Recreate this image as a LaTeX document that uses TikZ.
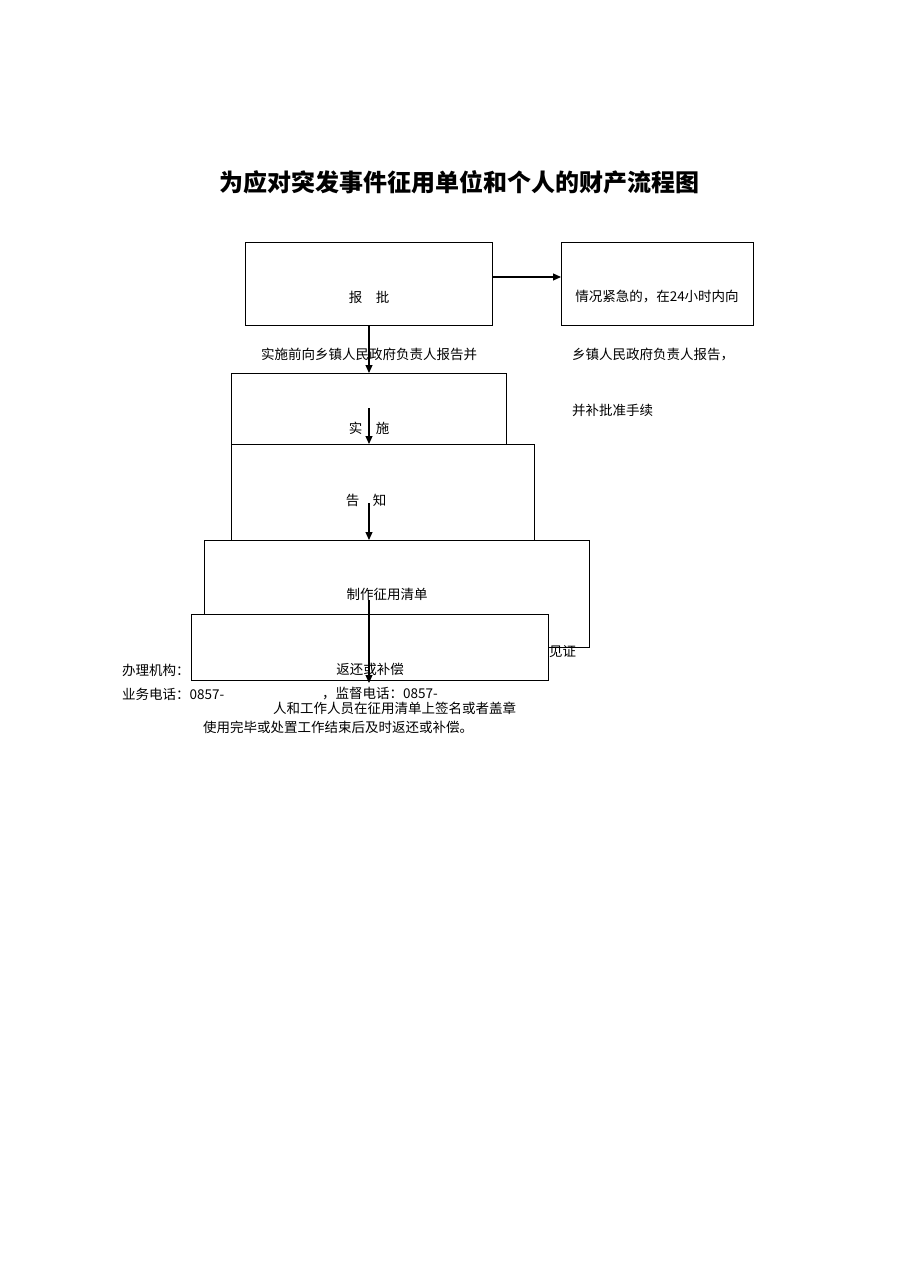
\documentclass[tikz,border=0pt]{standalone}
\usepackage{fontspec}
\newfontfamily\cjk{Noto Sans CJK SC}
\usetikzlibrary{arrows.meta}
\begin{document}
\begin{tikzpicture}[x=1pt,y=-1pt,
 box/.style={draw,line width=1.1pt,fill=white,anchor=north west,inner sep=0pt},
 t/.style={font=\cjk\fontsize{13.5}{15}\selectfont,inner sep=0pt},
 arr/.style={line width=1.1pt,-{Triangle[length=8pt,width=7pt]}}]
\useasboundingbox (0,0) rectangle (909,1286);
\node[t,font=\cjk\bfseries\fontsize{24}{27}\selectfont] (title) at (459,182) {为应对突发事件征用单位和个人的财产流程图};
\node[box,minimum width=247,minimum height=83] (b1) at (245,242) {};
\node[box,minimum width=192,minimum height=83] (b2) at (561,242) {};
\node[box,minimum width=275,minimum height=90] (b3) at (231,373) {};
\node[box,minimum width=303,minimum height=110] (b4) at (231,444) {};
\node[box,minimum width=385,minimum height=107] (b5) at (204,540) {};
\node[box,minimum width=357,minimum height=66] (b6) at (191,614) {};
\node[t] (l1) at (369,297) {报\quad 批};
\node[t] (l2) at (657,297) {情况紧急的，在24小时内向};
\node[t] (l3) at (369,354) {实施前向乡镇人民政府负责人报告并};
\node[t,anchor=west] (l4) at (572,354) {乡镇人民政府负责人报告，};
\node[t,anchor=west] (l5) at (572,410) {并补批准手续};
\node[t] (l6) at (369,428) {实\quad 施};
\node[t] (l7) at (366,500) {告\quad 知};
\node[t] (l8) at (387,594) {制作征用清单};
\node[t,anchor=west] (l9) at (549,652) {见证};
\node[t] (l10) at (370,669) {返还或补偿};
\node[t,anchor=west] (l11) at (122,670) {办理机构：};
\node[t,anchor=west] (l12) at (122,694) {业务电话：0857-};
\node[t,anchor=west] (l13) at (322,694) {，监督电话：0857-};
\node[t,anchor=west] (l14) at (273,708) {人和工作人员在征用清单上签名或者盖章};
\node[t,anchor=west] (l15) at (203,727) {使用完毕或处置工作结束后及时返还或补偿。};
\coordinate (a1) at (369,408);
\coordinate (a2) at (369,503);
\coordinate (a3) at (369,600);
\coordinate (e3) at (369,683);
\draw[arr] (b1.east |- 0,277) -- (b2.west |- 0,277);
\draw[arr] (b1.south -| 369,0) -- (b3.north -| 369,0);
\draw[arr] (a1) -- (b4.north -| 369,0);
\draw[arr] (a2) -- (b5.north -| 369,0);
\draw[arr] (a3) -- (e3);
\end{tikzpicture}
\end{document}
